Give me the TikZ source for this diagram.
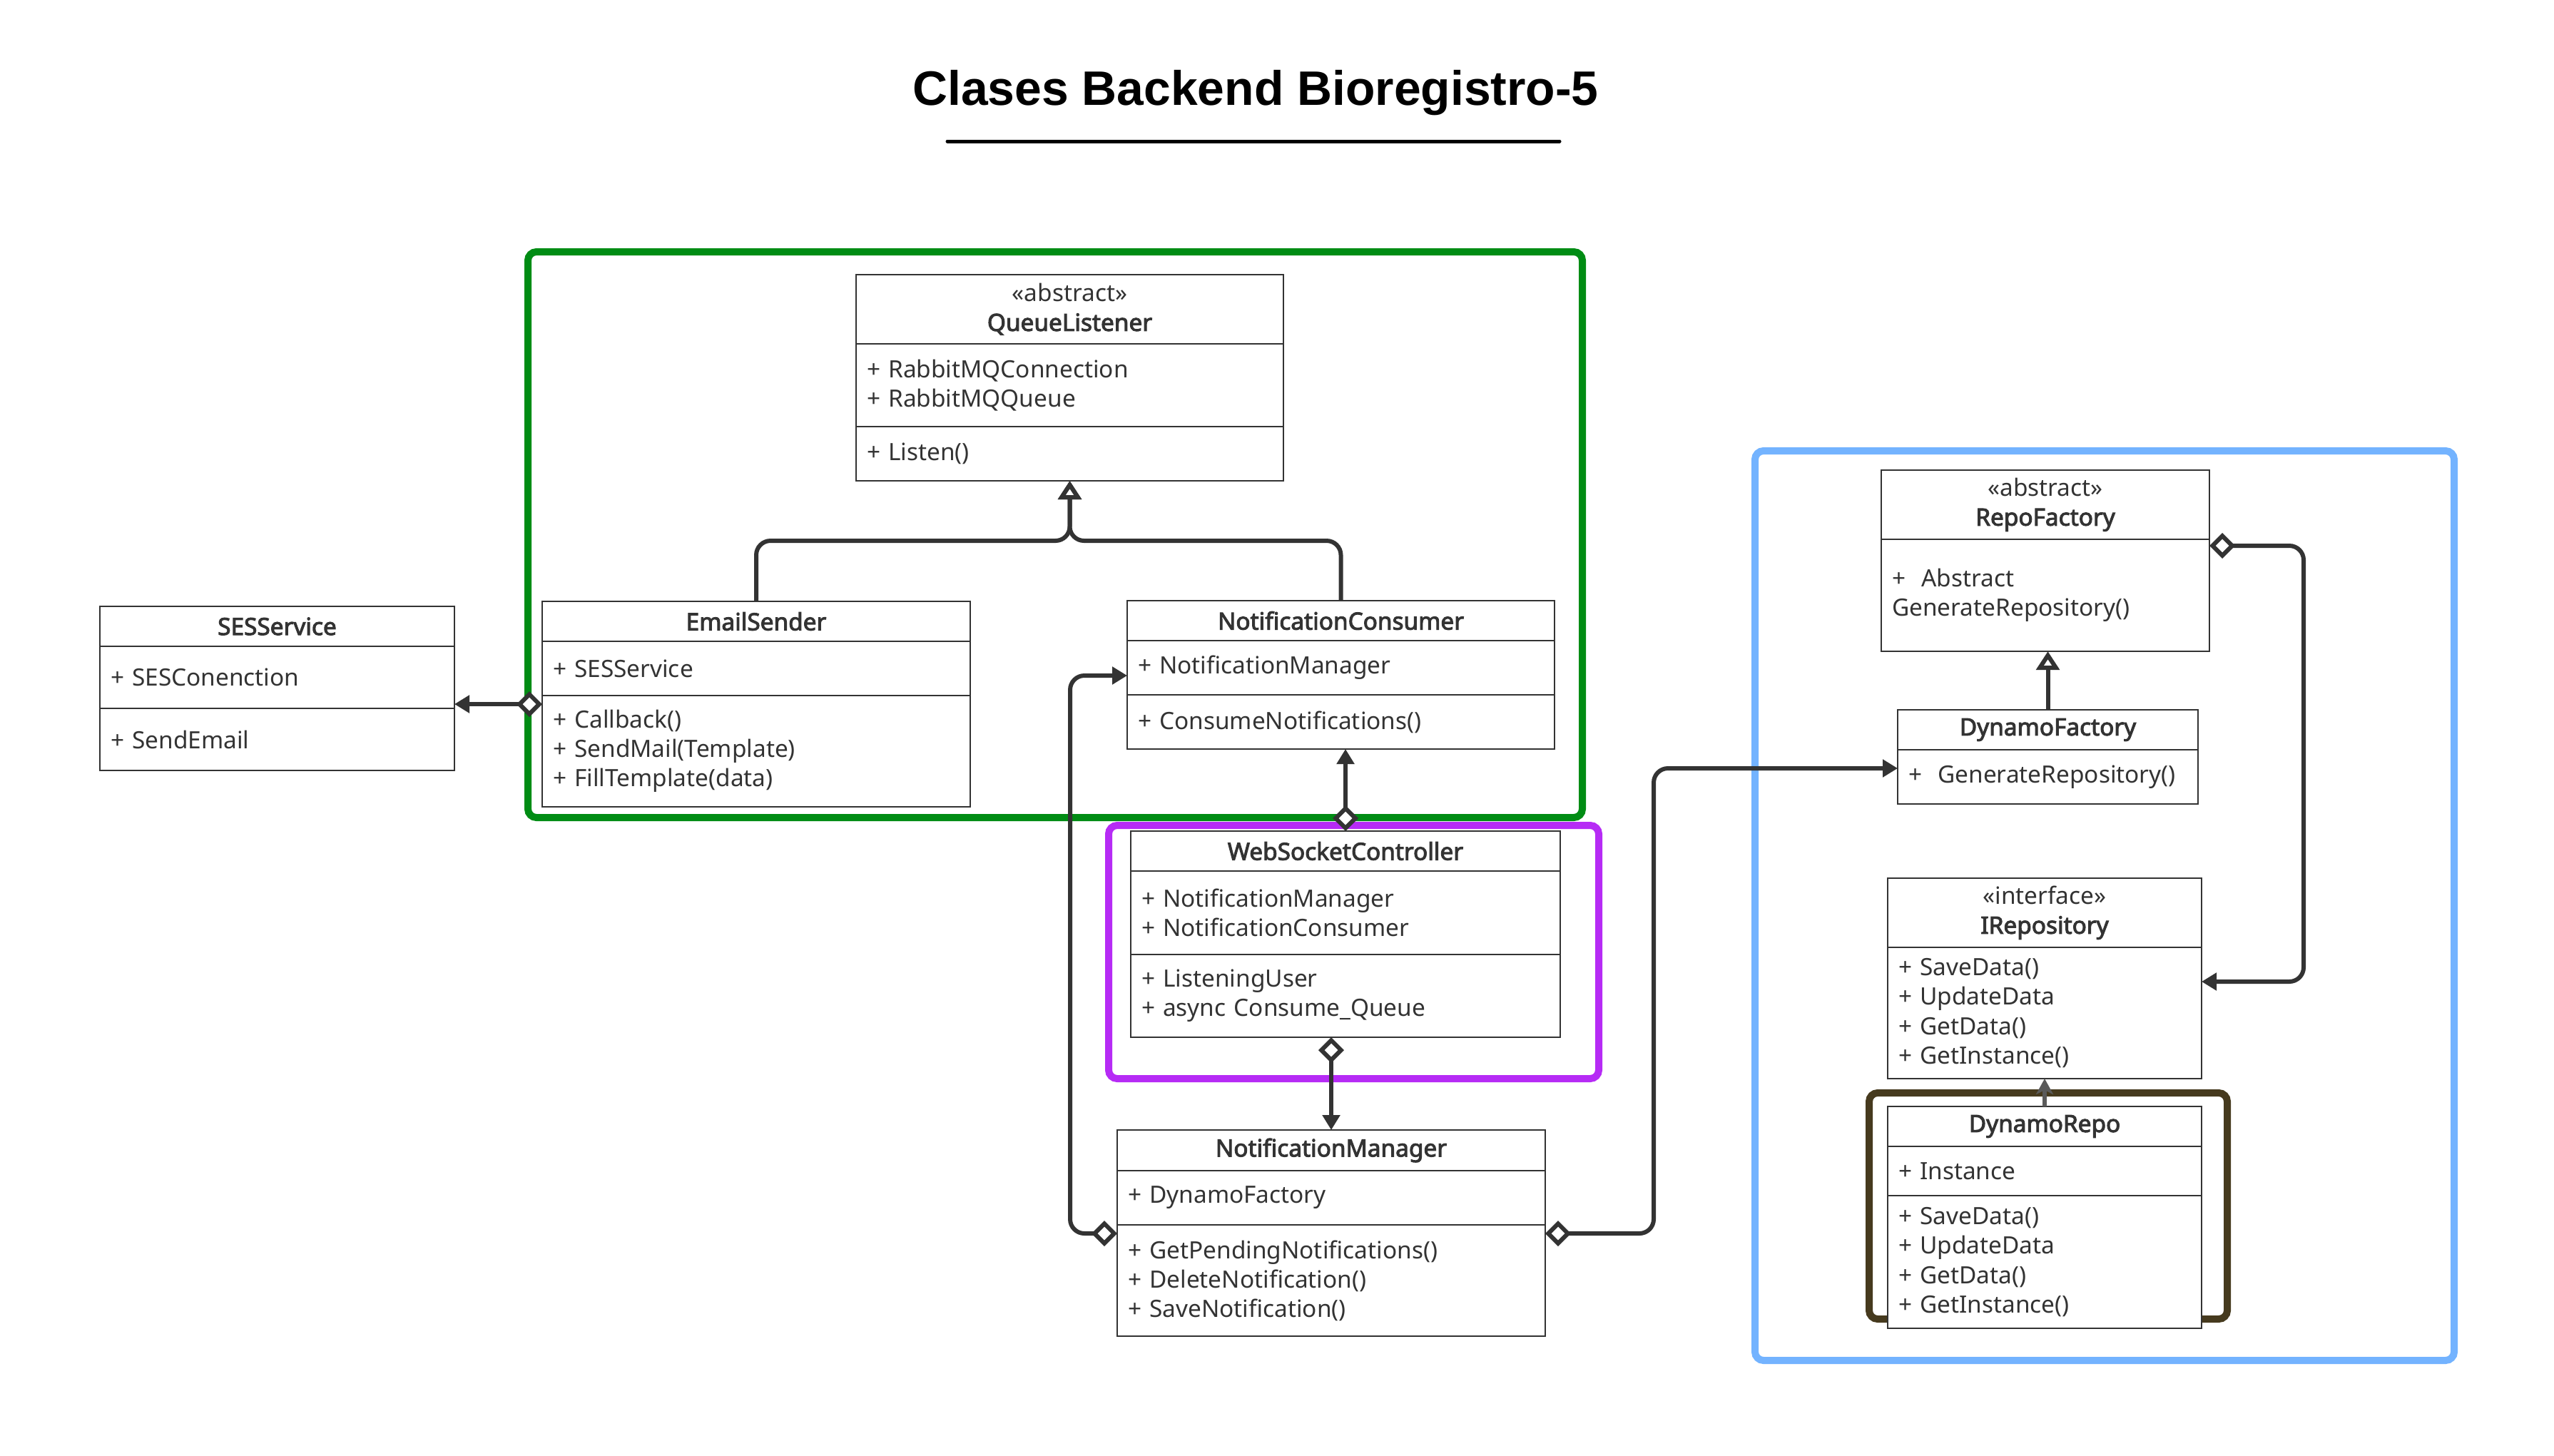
\documentclass[tikz,border=0pt]{standalone}
\usepackage{fontspec}
\setmainfont{Noto Sans}[AutoFakeBold=3]
\newfontfamily\ttlfont{Liberation Sans}
\usepackage{tikz}
\usetikzlibrary{arrows.meta,positioning}
\definecolor{inkc}{HTML}{333333}
\definecolor{grpgreen}{HTML}{008C14}
\definecolor{grppurple}{HTML}{B62BF5}
\definecolor{grpblue}{HTML}{73B3FF}
\definecolor{grpbrown}{HTML}{463A1E}
\definecolor{realc}{HTML}{5A5A5A}
\tikzset{
  cls/.style={draw=inkc,line width=0.2mm,fill=white,outer sep=0pt,inner xsep=1.5mm,inner ysep=0pt,text=inkc,font=\fontsize{9.5}{11.7}\selectfont},
  hd/.style={cls,align=center},
  bd/.style={cls,align=left},
  grp/.style={line width=1mm,rounded corners=1.2mm},
  ln/.style={inkc,line width=0.6mm,rounded corners=2mm},
  inh/.style={ln,-{Triangle[open,length=2.6mm,width=3.2mm,fill=white]}},
  agg/.style={ln,{Diamond[open,length=3.6mm,width=3.6mm,fill=white]}-{Triangle[length=2.1mm,width=2.4mm]}},
  rel/.style={realc,line width=0.6mm,-{Stealth[length=2.2mm,width=2.4mm,inset=0.6mm]}}
}

\begin{document}
\begin{tikzpicture}
\useasboundingbox (0,0) rectangle (35.80,-20.40);
% title
\node[font=\ttlfont\bfseries\fontsize{19.3}{23}\selectfont,anchor=base] (ttl) at (17.60,-1.47) {Clases Backend Bioregistro-5};
\draw[line width=0.5mm,line cap=round] (13.28,-1.98) -- (21.86,-1.98);
% groups
\draw[grp,grpgreen] (7.40,-3.53) rectangle (22.18,-11.46);
\draw[grp,grppurple] (15.54,-11.57) rectangle (22.41,-15.12);
\draw[grp,grpblue] (24.60,-6.32) rectangle (34.40,-19.07);
\draw[grp,grpbrown] (26.20,-15.32) rectangle (31.22,-18.49);
% QueueListener
\node[hd,anchor=north west,text width=56.9mm,minimum height=9.7mm] (ql-h) at (12.00,-3.85) {«abstract»\\\textbf{QueueListener}};
\node[bd,text width=56.9mm,minimum height=11.6mm,below=0pt of ql-h] (ql-a) {+ RabbitMQConnection\\+ RabbitMQQueue};
\node[bd,text width=56.9mm,minimum height=7.6mm,below=0pt of ql-a] (ql-o) {+ Listen()};
% EmailSender
\node[hd,anchor=north west,text width=57.0mm,minimum height=5.6mm] (es-h) at (7.60,-8.43) {\textbf{EmailSender}};
\node[bd,text width=57.0mm,minimum height=7.6mm,below=0pt of es-h] (es-a) {+ SESService};
\node[bd,text width=57.0mm,minimum height=15.6mm,below=0pt of es-a] (es-o) {+ Callback()\\+ SendMail(Template)\\+ FillTemplate(data)};
% NotificationConsumer
\node[hd,anchor=north west,text width=56.9mm,minimum height=5.6mm] (nc-h) at (15.80,-8.42) {\textbf{NotificationConsumer}};
\node[bd,text width=56.9mm,minimum height=7.6mm,below=0pt of nc-h] (nc-a) {+ NotificationManager};
\node[bd,text width=56.9mm,minimum height=7.6mm,below=0pt of nc-a] (nc-o) {+ ConsumeNotifications()};
% SESService
\node[hd,anchor=north west,text width=46.7mm,minimum height=5.6mm] (ses-h) at (1.40,-8.50) {\textbf{SESService}};
\node[bd,text width=46.7mm,minimum height=8.7mm,below=0pt of ses-h] (ses-a) {+ SESConenction};
\node[bd,text width=46.7mm,minimum height=8.7mm,below=0pt of ses-a] (ses-o) {+ SendEmail};
% WebSocketController
\node[hd,anchor=north west,text width=57.2mm,minimum height=5.6mm] (wsc-h) at (15.85,-11.65) {\textbf{WebSocketController}};
\node[bd,text width=57.2mm,minimum height=11.7mm,below=0pt of wsc-h] (wsc-a) {+ NotificationManager\\+ NotificationConsumer};
\node[bd,text width=57.2mm,minimum height=11.6mm,below=0pt of wsc-a] (wsc-o) {+ ListeningUser\\+ async Consume\_Queue};
% NotificationManager
\node[hd,anchor=north west,text width=57.0mm,minimum height=5.7mm] (nm-h) at (15.66,-15.84) {\textbf{NotificationManager}};
\node[bd,text width=57.0mm,minimum height=7.6mm,below=0pt of nm-h] (nm-a) {+ DynamoFactory};
\node[bd,text width=57.0mm,minimum height=15.6mm,below=0pt of nm-a] (nm-o) {+ GetPendingNotifications()\\+ DeleteNotification()\\+ SaveNotification()};
% RepoFactory
\node[hd,anchor=north west,text width=43.0mm,minimum height=9.7mm] (rf-h) at (26.37,-6.59) {«abstract»\\\textbf{RepoFactory}};
\node[bd,text width=43.0mm,minimum height=15.7mm,below=0pt of rf-h] (rf-o) {+~ Abstract\\GenerateRepository()};
% DynamoFactory
\node[hd,anchor=north west,text width=39.1mm,minimum height=5.6mm] (df-h) at (26.60,-9.95) {\textbf{DynamoFactory}};
\node[bd,text width=39.1mm,minimum height=7.6mm,below=0pt of df-h] (df-o) {+~ GenerateRepository()};
% IRepository
\node[hd,anchor=north west,text width=41.0mm,minimum height=9.7mm] (ir-h) at (26.46,-12.31) {«interface»\\\textbf{IRepository}};
\node[bd,text width=41.0mm,minimum height=18.4mm,below=0pt of ir-h] (ir-o) {+ SaveData()\\+ UpdateData\\+ GetData()\\+ GetInstance()};
% DynamoRepo
\node[hd,anchor=north west,text width=41.0mm,minimum height=5.6mm] (dr-h) at (26.46,-15.51) {\textbf{DynamoRepo}};
\node[bd,text width=41.0mm,minimum height=6.9mm,below=0pt of dr-h] (dr-a) {+ Instance};
\node[bd,text width=41.0mm,minimum height=18.6mm,below=0pt of dr-a] (dr-o) {+ SaveData()\\+ UpdateData\\+ GetData()\\+ GetInstance()};
% generalizations
\coordinate (jn) at (ql-o.south |- 0,-7.58);
\draw[inh] (es-h.north) |- (jn) -- (ql-o.south);
\draw[inh] (nc-h.north) |- (jn) -- (ql-o.south);
\draw[inh] (df-h.north) -- (df-h.north |- rf-o.south);
\draw[rel] (dr-h.north) -- (dr-h.north |- ir-o.south);
% aggregations
\coordinate (sesin) at ([yshift=0.6mm]ses-o.north east);
\coordinate (nmL) at ([yshift=-1.2mm]nm-o.north west);
\coordinate (nmR) at ([yshift=-1.2mm]nm-o.north east);
\coordinate (ncin) at ([yshift=-1.1mm]nc-a.west);
\coordinate (dfin) at ([yshift=1.2mm]df-o.west);
\coordinate (rfR) at ([yshift=-0.9mm]rf-o.north east);
\coordinate (irin) at ([yshift=-4.8mm]ir-o.north east);
\draw[agg] (es-o.west |- sesin) -- (sesin);
\draw[agg] (wsc-h.north) -- (wsc-h.north |- nc-o.south);
\draw[agg] (wsc-o.south -| nm-h.north) -- (nm-h.north);
\draw[agg] (nmL) -- ++(-0.66,0) |- (ncin);
\draw[agg] (nmR) -- ++(1.52,0) |- (dfin);
\draw[agg] (rfR) -- ++(1.32,0) |- (irin);
\end{tikzpicture}
\end{document}
